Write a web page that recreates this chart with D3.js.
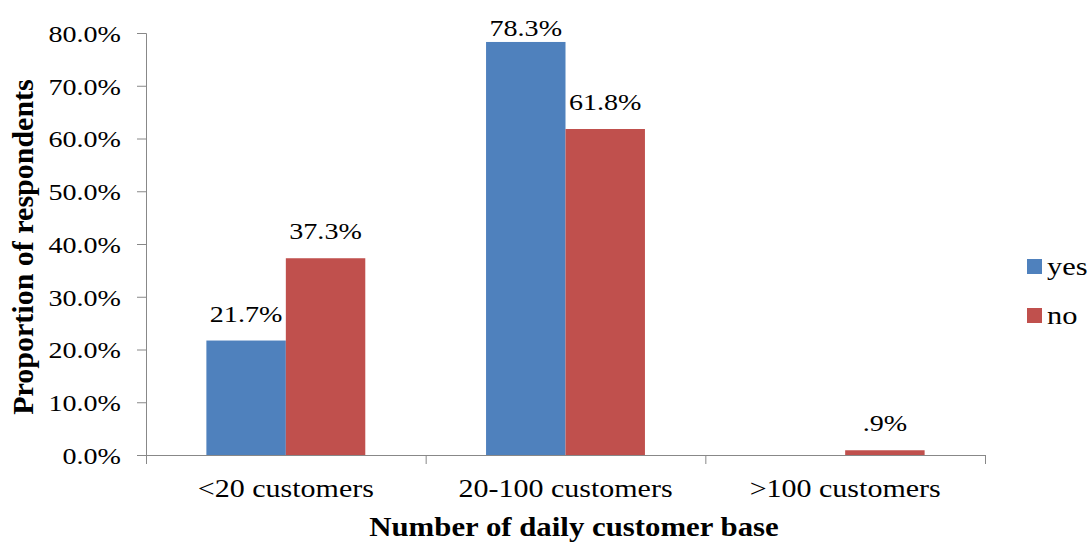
<!DOCTYPE html>
<html>
<head>
<meta charset="utf-8">
<script src="https://cdn.jsdelivr.net/npm/d3@7"></script>
<style>
body { margin: 0; background: #fff; }
</style>
</head>
<body>
<svg id="chart" width="1091" height="544"></svg>
<script>
// chart data
const categories = ['<20 customers', '20-100 customers', '>100 customers'];
const series = ['yes', 'no'];
const yesValues = [21.7, 78.3, null];
const noValues = [37.3, 61.8, 0.9];
const valueLabels = [['21.7%', '78.3%', null], ['37.3%', '61.8%', '.9%']];
const yTicks = [0, 10, 20, 30, 40, 50, 60, 70, 80];
const colours = ['#4F81BD', '#C0504D'];

const FONT = '"Liberation Serif", "Times New Roman", "DejaVu Serif", serif';
const WIDEN = 1.17; // the source picture is a little wider than tall

// widen text a bit, the source chart's labels are stretched sideways
function stretch(sel, k) {
  sel.each(function() {
    const len = this.getComputedTextLength();
    d3.select(this).attr('textLength', len * k).attr('lengthAdjust', 'spacingAndGlyphs');
  });
}

const svg = d3.select('#chart');
const margin = {left: 146, right: 106, top: 33, bottom: 89};
const width = 1091 - margin.left - margin.right;
const height = 544 - margin.top - margin.bottom;

const g = svg.append('g').attr('transform', `translate(${margin.left},${margin.top})`);

const x = d3.scaleBand().domain(categories).range([0, width]).paddingInner(0).paddingOuter(0);
const xs = d3.scaleBand().domain(series).range([0, x.bandwidth()]).paddingInner(0).paddingOuter(0.76);
const y = d3.scaleLinear().domain([0, 80]).range([height, 0]);

// y axis
const yAxis = g.append('g')
  .call(d3.axisLeft(y).tickValues(yTicks).tickSize(9).tickPadding(16).tickFormat(d => d.toFixed(1) + '%'));
yAxis.select('.domain').attr('stroke', '#888').attr('d', `M-9,0.5H0.5V${height}`);
yAxis.selectAll('.tick line').attr('stroke', '#888');
yAxis.selectAll('.tick text')
  .style('font-size', '24px').style('font-family', FONT).attr('fill', '#000').attr('dy', '0.35em')
  .call(stretch, WIDEN);

// bars
const allValues = [yesValues, noValues];
series.forEach((s, si) => {
  const rows = categories.map((c, i) => ({c, v: allValues[si][i], label: valueLabels[si][i]})).filter(d => d.v != null);
  g.append('g').selectAll('rect')
    .data(rows)
    .join('rect')
    .attr('x', d => x(d.c) + xs(s))
    .attr('y', d => y(d.v))
    .attr('width', xs.bandwidth())
    .attr('height', d => height - y(d.v))
    .attr('fill', colours[si]);

  g.append('g').selectAll('text')
    .data(rows)
    .join('text')
    .attr('x', d => x(d.c) + xs(s) + xs.bandwidth() / 2)
    .attr('y', d => Math.max(y(d.v) - 19, 2.5))
    .attr('text-anchor', 'middle')
    .style('font-size', '24px').style('font-family', FONT)
    .text(d => d.label)
    .call(stretch, WIDEN);
});

// x axis
const xAxis = g.append('g').attr('transform', `translate(0,${height})`)
  .call(d3.axisBottom(x).tickSize(0));
xAxis.select('.domain').attr('stroke', '#888').attr('d', `M0,0.5H${width}`);
xAxis.selectAll('.tick text')
  .attr('y', 42).attr('dy', 0)
  .style('font-size', '25px').style('font-family', FONT).attr('fill', '#000')
  .call(stretch, 1.2);
g.append('g').selectAll('line')
  .data(categories.map(c => x(c)).concat([width]))
  .join('line')
  .attr('x1', d => d + 0.5).attr('x2', d => d + 0.5)
  .attr('y1', height).attr('y2', height + 9)
  .attr('stroke', '#888');

// axis titles
svg.append('text')
  .attr('x', 574)
  .attr('y', 536)
  .attr('text-anchor', 'middle')
  .style('font-size', '28px').style('font-weight', 'bold').style('font-family', FONT)
  .text('Number of daily customer base')
  .call(stretch, 1.1);

svg.append('text')
  .attr('transform', `translate(33,247) rotate(-90)`)
  .attr('text-anchor', 'middle')
  .style('font-size', '30px').style('font-weight', 'bold').style('font-family', FONT)
  .text('Proportion of respondents');

// legend
const legend = svg.append('g').attr('transform', 'translate(1027,259)');
series.forEach((s, i) => {
  legend.append('rect').attr('x', 0).attr('y', i * 49).attr('width', 15).attr('height', 15).attr('fill', colours[i]);
  legend.append('text').attr('x', 20).attr('y', i * 49 + 16)
    .style('font-size', '26px').style('font-family', FONT).text(s)
    .call(stretch, WIDEN);
});
</script>
</body>
</html>
